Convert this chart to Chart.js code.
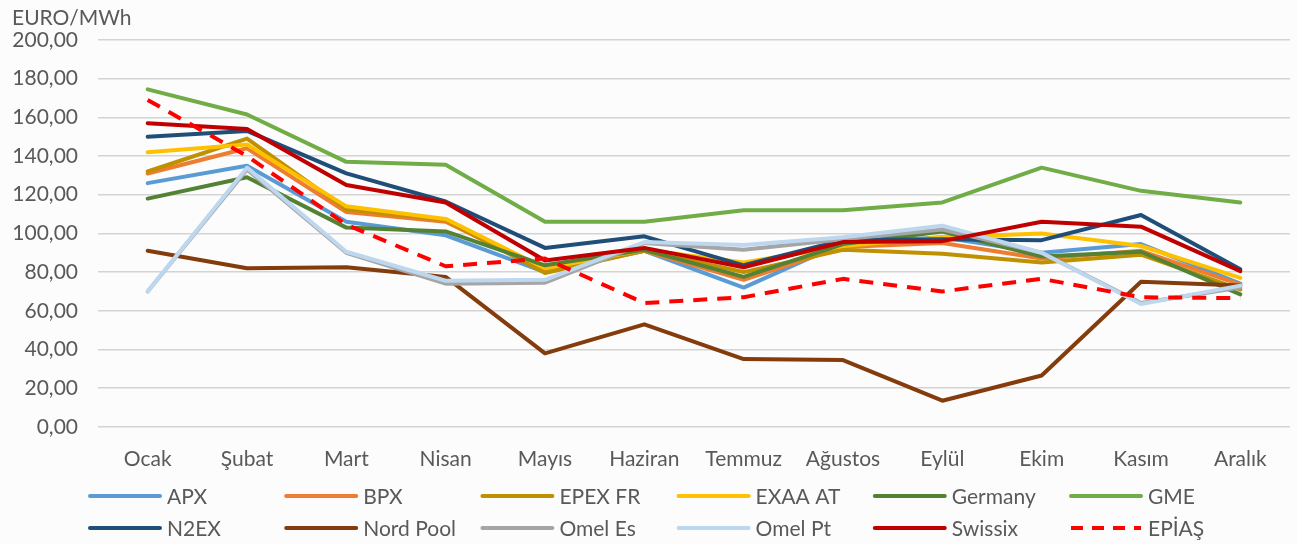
<!DOCTYPE html>
<html>
<head>
<meta charset="utf-8">
<script src="https://cdn.jsdelivr.net/npm/chart.js@4"></script>
<style>
  html, body { margin: 0; padding: 0; background: #fcfcfc; }
  #chart-container { width: 1297px; height: 544px; }
</style>
</head>
<body>
<div id="chart-container"><canvas id="myChart"></canvas></div>
<script>
const months = ["Ocak", "Şubat", "Mart", "Nisan", "Mayıs", "Haziran", "Temmuz", "Ağustos", "Eylül", "Ekim", "Kasım", "Aralık"];

const apx = [126, 135, 106, 99, 80, 91, 72, 95, 98, 90, 94.5, 74];
const bpx = [131, 144, 111, 106, 81, 91, 76, 93, 95, 87, 91, 73.5];
const epexFr = [132, 149, 112.5, 107, 79.5, 91, 80, 91.5, 89.5, 85, 89, 71];
const exaaAt = [142, 146, 114, 107.5, 82, 91.5, 85, 93.5, 98, 100, 93.5, 77];
const germany = [118, 129, 103, 101, 83.5, 91.5, 77.5, 94.5, 101, 88, 90.5, 68.5];
const gme = [174.5, 161.5, 137, 135.5, 106, 106, 112, 112, 116, 134, 122, 116];
const n2ex = [150, 153, 131, 116.5, 92.5, 98.5, 83.5, 96.5, 97, 96.5, 109.5, 81.5];
const nordPool = [91, 82, 82.5, 77.5, 38, 53, 35, 34.5, 13.5, 26.5, 75, 73];
const omelEs = [70, 133, 90, 74, 74.5, 95, 91.5, 97, 102, 90, 64, 72];
const omelPt = [70, 134, 90.5, 75.5, 76, 95.5, 94, 98, 104, 90, 63.5, 73];
const swissix = [157, 154, 125, 116, 86, 92.5, 82.5, 95.5, 96, 106, 103.5, 80.5];
const epias = [169, 140, 104.5, 83, 87, 64, 67, 76.5, 70, 76.5, 67, 66.5];

const yTicks = [0, 20, 40, 60, 80, 100, 120, 140, 160, 180, 200];

const seriesNames = ["APX", "BPX", "EPEX FR", "EXAA AT", "Germany", "GME", "N2EX", "Nord Pool", "Omel Es", "Omel Pt", "Swissix", "EPİAŞ"];
const seriesValues = [apx, bpx, epexFr, exaaAt, germany, gme, n2ex, nordPool, omelEs, omelPt, swissix, epias];
const seriesColors = ["#5B9BD5", "#ED7D31", "#BF9000", "#FFC000", "#548235", "#70AD47", "#1F4E79", "#843C0C", "#A5A5A5", "#BDD7EE", "#C00000", "#FF0000"];

const textColor = "#595959";
const fontFamily = "Lato, 'Open Sans', sans-serif";

const datasets = seriesNames.map(function (name, i) {
    return {
        label: name,
        data: seriesValues[i],
        borderColor: seriesColors[i],
        backgroundColor: seriesColors[i],
        borderWidth: 4,
        borderDash: name === "EPİAŞ" ? [14, 10] : [],
        borderCapStyle: name === "EPİAŞ" ? "butt" : "round",
        borderJoinStyle: "round",
        pointRadius: 0,
        tension: 0,
        fill: false,
        order: seriesNames.length - i
    };
});

// y axis unit label and the grid style legend at the bottom
const extras = {
    id: "extras",
    beforeDraw(chart) {
        const ctx = chart.ctx;
        ctx.save();
        ctx.fillStyle = "#fcfcfc";
        ctx.fillRect(0, 0, chart.width, chart.height);
        ctx.restore();
    },
    afterDraw(chart) {
        const ctx = chart.ctx;
        ctx.save();
        ctx.font = "21px " + fontFamily;
        ctx.fillStyle = textColor;
        ctx.textBaseline = "middle";
        ctx.textAlign = "left";
        ctx.fillText("EURO/MWh", 12, 18);

        const startX = 90;
        const stepX = 196.2;
        const rows = [496, 528];
        chart.data.datasets.forEach(function (ds, i) {
            const col = i % 6;
            const row = Math.floor(i / 6);
            const x = startX + col * stepX;
            const y = rows[row];
            ctx.beginPath();
            ctx.strokeStyle = ds.borderColor;
            ctx.lineWidth = 4;
            ctx.setLineDash(ds.borderDash.length ? [12, 9] : []);
            ctx.lineCap = ds.borderDash.length ? "butt" : "round";
            ctx.moveTo(x, y);
            ctx.lineTo(x + 70, y);
            ctx.stroke();
            ctx.setLineDash([]);
            ctx.fillText(ds.label, x + 77, y + 1);
        });
        ctx.restore();
    }
};

const config = {
    type: "line",
    data: {
        labels: months,
        datasets: datasets
    },
    options: {
        responsive: false,
        animation: false,
        layout: {
            padding: { left: 10, right: 7, top: 40, bottom: 52 }
        },
        scales: {
            x: {
                offset: true,
                grid: { display: false, drawTicks: false },
                border: { display: false },
                ticks: {
                    color: textColor,
                    padding: 20,
                    maxRotation: 0,
                    font: { family: fontFamily, size: 21 }
                }
            },
            y: {
                min: 0,
                max: 200,
                afterFit: function (scale) { scale.width = 88; },
                afterBuildTicks: function (scale) {
                    scale.ticks = yTicks.map(function (v) { return { value: v }; });
                },
                grid: { color: "#d4d4d4", lineWidth: 1.5, drawTicks: false },
                border: { display: false },
                ticks: {
                    color: textColor,
                    padding: 20,
                    font: { family: fontFamily, size: 21 },
                    callback: function (value) {
                        return value.toFixed(2).replace(".", ",");
                    }
                }
            }
        },
        plugins: {
            legend: { display: false },
            tooltip: { enabled: false }
        }
    },
    plugins: [extras]
};

const canvas = document.getElementById("myChart");
canvas.width = 1297;
canvas.height = 544;
const myChart = new Chart(canvas, config);
</script>
</body>
</html>
